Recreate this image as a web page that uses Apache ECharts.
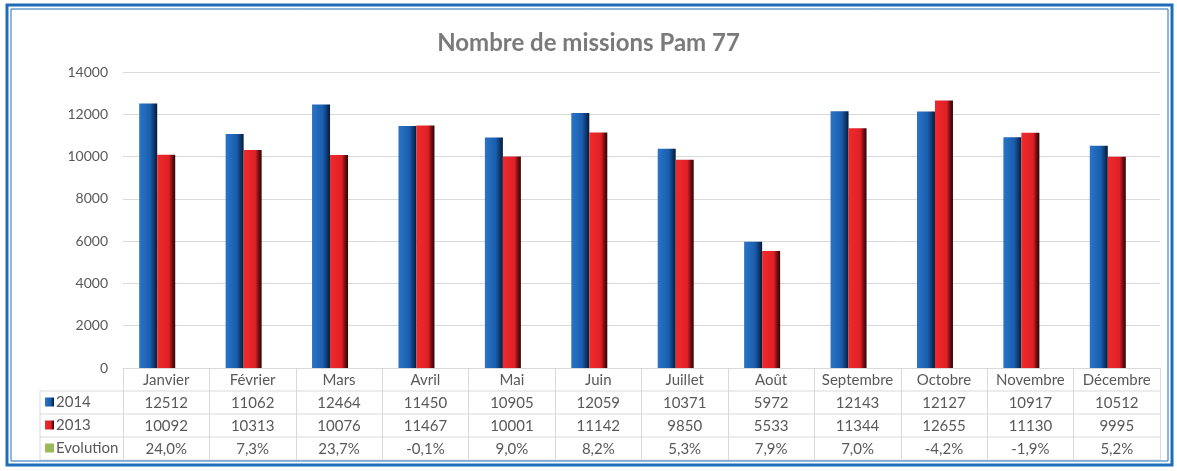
<!DOCTYPE html>
<html>
<head>
<meta charset="utf-8">
<script src="https://cdn.jsdelivr.net/npm/echarts@6/dist/echarts.min.js"></script>
<style>
  html, body { margin: 0; padding: 0; background: #fff; }
  #chart { width: 1177px; height: 471px; }
</style>
</head>
<body>
<div id="chart"></div>
<script>
// données du graphique
var mois = ['Janvier', 'Février', 'Mars', 'Avril', 'Mai', 'Juin', 'Juillet', 'Août', 'Septembre', 'Octobre', 'Novembre', 'Décembre'];
var missions2014 = [12512, 11062, 12464, 11450, 10905, 12059, 10371, 5972, 12143, 12127, 10917, 10512];
var missions2013 = [10092, 10313, 10076, 11467, 10001, 11142, 9850, 5533, 11344, 12655, 11130, 9995];
var evolution = [0.240, 0.073, 0.237, -0.001, 0.090, 0.082, 0.053, 0.079, 0.070, -0.042, -0.019, 0.052];
var yTicks = [0, 2000, 4000, 6000, 8000, 10000, 12000, 14000];

var gridLeft = 123, gridRight = 17, gridTop = 72, gridBottom = 103;
var W = 1177, H = 471;
var axisY = H - gridBottom;          // ligne du haut du tableau
var rowH = 23;
var tabLeft = 40, tabRight = W - gridRight;
var txtColor = '#595959', lineColor = '#d9d9d9';
var police = 'Lato, "Open Sans", sans-serif';

function pct(v) {
	return (v * 100).toFixed(1).replace('.', ',') + '%';
}

var blueGrad = new echarts.graphic.LinearGradient(0, 0, 1, 0, [
	{ offset: 0, color: '#2a74c6' },
	{ offset: 0.6, color: '#1a5eae' },
	{ offset: 0.8, color: '#0f3d75' },
	{ offset: 1, color: '#071a33' }
]);
var redGrad = new echarts.graphic.LinearGradient(0, 0, 1, 0, [
	{ offset: 0, color: '#ef2a2c' },
	{ offset: 0.65, color: '#e02026' },
	{ offset: 0.82, color: '#7a1014' },
	{ offset: 1, color: '#2a0505' }
]);

var myChart = echarts.init(document.getElementById('chart'));

// cadre, lignes et légende du tableau
var graphics = [
	{ type: 'rect', shape: { x: 7, y: 5, width: 1165, height: 460 }, style: { fill: 'none', stroke: '#1f6cb8', lineWidth: 3 }, z: 10 },
	{ type: 'rect', shape: { x: 11, y: 9, width: 1157, height: 452 }, style: { fill: 'none', stroke: '#1f6cb8', lineWidth: 1 }, z: 10 },
	{ type: 'line', shape: { x1: tabLeft, y1: axisY + rowH, x2: tabLeft, y2: axisY + 4 * rowH }, style: { stroke: lineColor, lineWidth: 1 } }
];
for (var r = 1; r <= 4; r++) {
	graphics.push({ type: 'line', shape: { x1: tabLeft, y1: axisY + r * rowH, x2: tabRight, y2: axisY + r * rowH }, style: { stroke: lineColor, lineWidth: 1 } });
}
var legendRows = [
	{ name: '2014', fill: blueGrad },
	{ name: '2013', fill: redGrad },
	{ name: 'Evolution', fill: '#9bbb59' }
];
legendRows.forEach(function(item, i) {
	var cy = axisY + (i + 1.5) * rowH;
	graphics.push({ type: 'rect', shape: { x: 45, y: cy - 5, width: 9, height: 9 }, style: { fill: item.fill } });
	graphics.push({ type: 'text', x: 56, y: cy, style: { text: item.name, fill: txtColor, font: '15px ' + police, textVerticalAlign: 'middle' } });
});

var option = {
	backgroundColor: '#fff',
	animation: false,
	title: {
		text: 'Nombre de missions Pam 77',
		left: 'center',
		top: 26,
		textStyle: { color: '#7a7a7a', fontSize: 24, fontWeight: 'bold', fontFamily: police }
	},
	grid: { left: gridLeft, right: gridRight, top: gridTop, bottom: gridBottom },
	xAxis: {
		type: 'category',
		data: mois,
		axisLine: { lineStyle: { color: lineColor } },
		// les traits de graduation servent de séparateurs verticaux du tableau
		axisTick: { show: true, interval: 0, length: 4 * rowH, lineStyle: { color: lineColor } },
		axisLabel: {
			interval: 0,
			margin: 1,
			formatter: function(v, i) {
				return '{m|' + v + '}\n{v|' + missions2014[i] + '}\n{v|' + missions2013[i] + '}\n{v|' + pct(evolution[i]) + '}';
			},
			rich: {
				m: { fontSize: 15, lineHeight: rowH, color: txtColor, fontFamily: police },
				v: { fontSize: 15, lineHeight: rowH, color: txtColor, fontFamily: police }
			}
		}
	},
	yAxis: {
		type: 'value',
		min: yTicks[0],
		max: yTicks[yTicks.length - 1],
		interval: 2000,
		axisLine: { show: false },
		axisTick: { show: false },
		axisLabel: { color: txtColor, fontSize: 14, margin: 15, fontFamily: police, formatter: function(v) { return String(v); } },
		splitLine: { lineStyle: { color: lineColor } }
	},
	series: [
		{ name: '2014', type: 'bar', data: missions2014, barWidth: 18, barGap: '0%', itemStyle: { color: blueGrad } },
		{ name: '2013', type: 'bar', data: missions2013, barWidth: 18, barGap: '0%', itemStyle: { color: redGrad } },
		{ name: 'Evolution', type: 'bar', data: evolution, barWidth: 18, barGap: '0%', itemStyle: { color: '#9bbb59' } }
	],
	graphic: graphics
};

myChart.setOption(option);

window.onresize = function() {
	myChart.resize();
};
</script>
</body>
</html>
